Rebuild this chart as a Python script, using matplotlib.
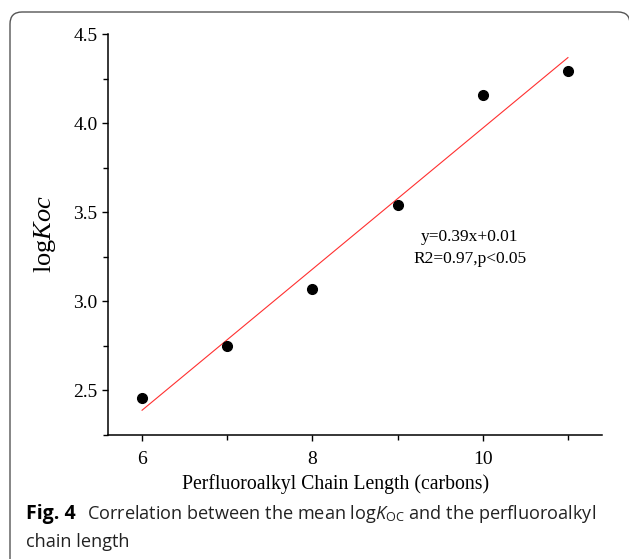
import numpy as np
import matplotlib
matplotlib.use("Agg")
import matplotlib.pyplot as plt
from matplotlib.patches import FancyBboxPatch
from matplotlib.transforms import IdentityTransform
from matplotlib.ticker import MultipleLocator

# data
chain_length = [6, 7, 8, 9, 10, 11]
log_koc = [2.46, 2.75, 3.07, 3.54, 4.16, 4.29]

x_ticks = [6, 8, 10]
y_ticks = [2.5, 3.0, 3.5, 4.0, 4.5]

plt.rcParams['font.family'] = 'Liberation Serif'
plt.rcParams['mathtext.fontset'] = 'custom'
plt.rcParams['mathtext.rm'] = 'Liberation Serif'
plt.rcParams['mathtext.it'] = 'Liberation Serif:italic'
plt.rcParams['mathtext.sf'] = 'Open Sans'
plt.rcParams['mathtext.cal'] = 'Open Sans:italic'

W, H = 629, 559
fig = plt.figure(figsize=(W / 100, H / 100), dpi=100)
ax = fig.add_axes([108 / W, 1 - 435 / H, (602 - 108) / W, (435 - 34) / H])

# linear fit
slope, icept = np.polyfit(chain_length, log_koc, 1)
xf = np.array([min(chain_length), max(chain_length)])
ax.plot(xf, slope * xf + icept, color='#ff3030', lw=0.8)
ax.plot(chain_length, log_koc, 'o', color='black', ms=7)

ax.text(9.85, 3.30, "y=0.39x+0.01\nR2=0.97,p<0.05", ha='center', va='center',
        fontsize=12.5, linespacing=1.5)

ax.set_xlim(5.6, 11.4)
ax.set_ylim(2.25, 4.5)
ax.set_xticks(x_ticks)
ax.set_yticks(y_ticks)
ax.xaxis.set_minor_locator(MultipleLocator(1))
ax.yaxis.set_minor_locator(MultipleLocator(0.25))
ax.tick_params(which='both', direction='out', width=1.0, labelsize=14)
ax.tick_params(which='major', length=4.5)
ax.tick_params(which='minor', length=3.5)
ax.tick_params(axis='x', pad=7)
ax.tick_params(axis='y', pad=3)
for s in ['top', 'right']:
    ax.spines[s].set_visible(False)
for s in ['left', 'bottom']:
    ax.spines[s].set_linewidth(1.1)

ax.set_xlabel("Perfluoroalkyl Chain Length (carbons)", fontsize=14.2)
ax.xaxis.set_label_coords(0.46, -0.098)
ax.set_ylabel(r"log$\mathit{Koc}$", fontsize=19, labelpad=11)

# caption frame
frame = FancyBboxPatch((10, -40), 620, H - 12 + 40, boxstyle="round,pad=0,rounding_size=12",
                       transform=IdentityTransform(), fill=False, edgecolor='#555555', lw=1.0)
fig.patches.append(frame)

fig.text(26 / W, 1 - 514 / H, "Fig. 4", fontfamily='Open Sans', fontweight='bold',
         fontsize=14, va='center', ha='left')
fig.text(87 / W, 1 - 514 / H,
         r"Correlation between the mean log$\mathcal{K}_{\mathsf{OC}}$ and the perfluoroalkyl",
         fontfamily='Open Sans', fontsize=13.1, va='center', ha='left', color='#222222')
fig.text(26 / W, 1 - 542 / H, "chain length", fontfamily='Open Sans', fontsize=13.1,
         va='center', ha='left', color='#222222')

fig.savefig("out.png", dpi=100)
